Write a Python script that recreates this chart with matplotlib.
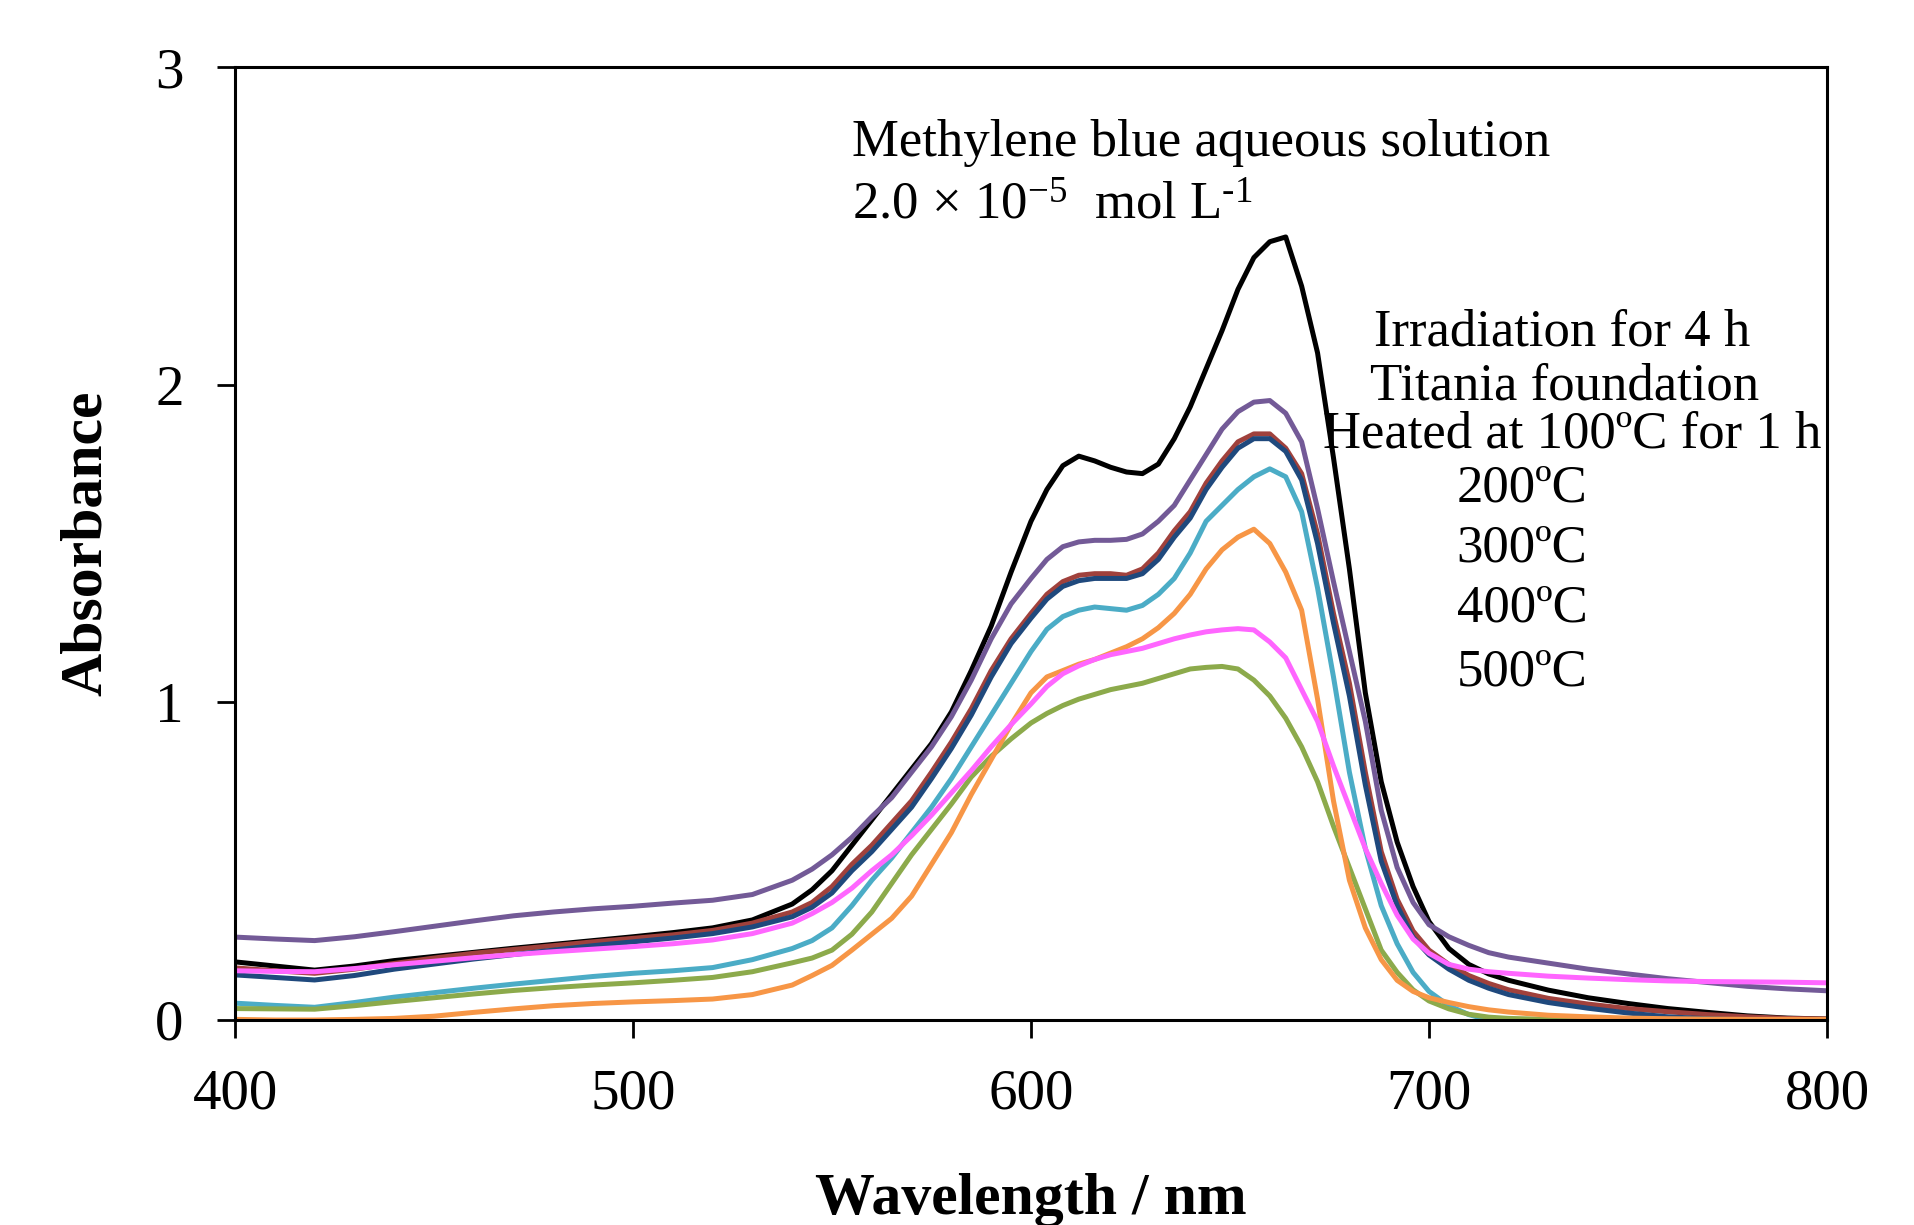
import matplotlib
matplotlib.use("Agg")
import matplotlib.pyplot as plt

plt.rcParams['font.family'] = ['Liberation Serif', 'DejaVu Serif']
plt.rcParams['mathtext.fontset'] = 'custom'
plt.rcParams['mathtext.rm'] = 'Liberation Serif'
plt.rcParams['mathtext.it'] = 'Liberation Serif:italic'
plt.rcParams['mathtext.bf'] = 'Liberation Serif:bold'

wavelength = [400, 410, 420, 430, 440, 450, 460, 470, 480, 490, 500, 510, 520, 530, 540,
              545, 550, 555, 560, 565, 570, 575, 580, 585, 590, 595, 600,
              604, 608, 612, 616, 620, 624, 628, 632, 636, 640, 644, 648, 652, 656, 660,
              664, 668, 672, 676, 680, 684, 688, 692, 696, 700,
              705, 710, 715, 720, 730, 740, 750, 760, 770, 780, 790, 800]

mb_solution = [0.183, 0.170, 0.157, 0.170, 0.187, 0.200, 0.213, 0.226, 0.238, 0.250, 0.262, 0.275, 0.290, 0.315, 0.365,
               0.41, 0.47, 0.55, 0.63, 0.71, 0.79, 0.87, 0.97, 1.10, 1.24, 1.41, 1.57,
               1.67, 1.745, 1.775, 1.76, 1.74, 1.725, 1.72, 1.75, 1.83, 1.93, 2.05, 2.17, 2.30, 2.40, 2.45,
               2.465, 2.31, 2.10, 1.77, 1.42, 1.03, 0.75, 0.56, 0.42, 0.31,
               0.225, 0.175, 0.145, 0.125, 0.094, 0.070, 0.052, 0.036, 0.024, 0.013, 0.006, 0.003]

irradiation_4h = [0.261, 0.255, 0.250, 0.262, 0.278, 0.295, 0.312, 0.328, 0.340, 0.350, 0.358, 0.368, 0.377, 0.395, 0.440,
                  0.475, 0.52, 0.575, 0.64, 0.70, 0.78, 0.86, 0.955, 1.07, 1.20, 1.31, 1.39,
                  1.45, 1.49, 1.505, 1.51, 1.51, 1.513, 1.53, 1.57, 1.62, 1.70, 1.78, 1.86, 1.915, 1.945, 1.95,
                  1.91, 1.82, 1.61, 1.38, 1.16, 0.94, 0.66, 0.48, 0.37, 0.30,
                  0.262, 0.235, 0.212, 0.198, 0.179, 0.160, 0.145, 0.130, 0.118, 0.106, 0.098, 0.092]

titania_foundation = [0.164, 0.155, 0.147, 0.160, 0.178, 0.195, 0.210, 0.222, 0.234, 0.246, 0.257, 0.268, 0.282, 0.305, 0.340,
                      0.37, 0.42, 0.49, 0.55, 0.62, 0.69, 0.78, 0.875, 0.98, 1.10, 1.20, 1.28,
                      1.34, 1.38, 1.40, 1.405, 1.405, 1.40, 1.42, 1.47, 1.54, 1.60, 1.69, 1.76, 1.82, 1.845, 1.845,
                      1.80, 1.72, 1.53, 1.28, 1.06, 0.78, 0.53, 0.38, 0.28, 0.22,
                      0.175, 0.140, 0.115, 0.095, 0.068, 0.050, 0.036, 0.026, 0.017, 0.010, 0.005, 0.003]

heated_100 = [0.142, 0.134, 0.126, 0.140, 0.160, 0.176, 0.192, 0.206, 0.220, 0.234, 0.246, 0.258, 0.272, 0.293, 0.325,
              0.355, 0.40, 0.47, 0.53, 0.60, 0.67, 0.76, 0.855, 0.96, 1.08, 1.185, 1.265,
              1.325, 1.365, 1.383, 1.39, 1.39, 1.39, 1.405, 1.45, 1.52, 1.58, 1.67, 1.74, 1.80, 1.83, 1.83,
              1.79, 1.70, 1.50, 1.25, 1.02, 0.74, 0.50, 0.36, 0.26, 0.205,
              0.160, 0.125, 0.100, 0.080, 0.055, 0.037, 0.022, 0.010, 0.004, 0.0, -0.004, -0.006]

heated_200 = [0.053, 0.046, 0.040, 0.055, 0.072, 0.086, 0.100, 0.113, 0.125, 0.137, 0.147, 0.155, 0.165, 0.190, 0.225,
              0.25, 0.29, 0.36, 0.44, 0.51, 0.59, 0.67, 0.76, 0.86, 0.96, 1.06, 1.16,
              1.23, 1.27, 1.29, 1.30, 1.295, 1.29, 1.305, 1.34, 1.39, 1.47, 1.57, 1.62, 1.67, 1.71, 1.735,
              1.71, 1.60, 1.36, 1.08, 0.78, 0.54, 0.36, 0.24, 0.15, 0.09,
              0.045, 0.017, 0.0, -0.015, -0.04, -0.05, -0.06, -0.06, -0.06, -0.06, -0.06, -0.06]

heated_300 = [0.002, 0.0, 0.0, 0.002, 0.005, 0.012, 0.024, 0.035, 0.045, 0.052, 0.057, 0.061, 0.066, 0.080, 0.110,
              0.14, 0.172, 0.22, 0.27, 0.32, 0.39, 0.49, 0.59, 0.71, 0.82, 0.93, 1.03,
              1.08, 1.10, 1.12, 1.135, 1.155, 1.175, 1.20, 1.235, 1.28, 1.34, 1.42, 1.48, 1.52, 1.545, 1.50,
              1.41, 1.29, 1.01, 0.69, 0.44, 0.29, 0.19, 0.125, 0.09, 0.07,
              0.055, 0.042, 0.032, 0.025, 0.015, 0.010, 0.006, 0.004, 0.003, 0.002, 0.002, 0.002]

heated_400 = [0.155, 0.153, 0.152, 0.162, 0.174, 0.185, 0.196, 0.206, 0.215, 0.223, 0.231, 0.240, 0.252, 0.272, 0.305,
              0.335, 0.37, 0.415, 0.47, 0.52, 0.58, 0.645, 0.715, 0.785, 0.86, 0.93, 0.995,
              1.05, 1.09, 1.115, 1.135, 1.15, 1.16, 1.17, 1.185, 1.20, 1.212, 1.222, 1.228, 1.232, 1.228, 1.19,
              1.14, 1.04, 0.94, 0.80, 0.67, 0.54, 0.43, 0.33, 0.255, 0.21,
              0.175, 0.160, 0.152, 0.147, 0.138, 0.132, 0.127, 0.123, 0.121, 0.120, 0.119, 0.117]

heated_500 = [0.036, 0.035, 0.034, 0.045, 0.058, 0.070, 0.082, 0.093, 0.102, 0.110, 0.117, 0.125, 0.134, 0.152, 0.180,
              0.195, 0.22, 0.27, 0.34, 0.43, 0.52, 0.60, 0.68, 0.765, 0.83, 0.885, 0.935,
              0.965, 0.99, 1.01, 1.025, 1.04, 1.05, 1.06, 1.075, 1.09, 1.105, 1.11, 1.113, 1.105, 1.07, 1.02,
              0.95, 0.86, 0.75, 0.61, 0.48, 0.35, 0.22, 0.15, 0.095, 0.06,
              0.035, 0.018, 0.009, 0.005, 0.002, 0.0, 0.0, 0.0, 0.0, 0.0, 0.0, 0.0]

x_ticks = [400, 500, 600, 700, 800]
y_ticks = [0, 1, 2, 3]

series = [
    (mb_solution, '#000000'),
    (irradiation_4h, '#735A97'),
    (titania_foundation, '#A0413C'),
    (heated_100, '#1F497D'),
    (heated_200, '#4BACC6'),
    (heated_500, '#8CAA4B'),
    (heated_300, '#F79646'),
    (heated_400, '#FF66FF'),
]

W, H = 1915, 1225
fig = plt.figure(figsize=(W / 100, H / 100), dpi=100)
ax = fig.add_axes([235 / W, 1 - 1020 / H, (1827 - 235) / W, (1020 - 67) / H])

for vals, col in series:
    ax.plot(wavelength, vals, color=col, linewidth=3.6, solid_joinstyle='round')

ax.set_xlim(400, 800)
ax.set_ylim(0, 3)
ax.set_xticks(x_ticks)
ax.set_yticks(y_ticks)
for s in ax.spines.values():
    s.set_linewidth(2.2)
ax.tick_params(axis='both', direction='out', length=13, width=2.0, labelsize=41)
ax.tick_params(axis='x', pad=22)
ax.tick_params(axis='y', pad=24)

ax.set_xlabel('Wavelength / nm', fontsize=43, fontweight='bold', labelpad=38)
ax.set_ylabel('Absorbance', fontsize=43, fontweight='bold', labelpad=30)


def ftext(px, py, s, **kw):
    fig.text(px / W, 1 - py / H, s, **kw)


ftext(852, 156, 'Methylene blue aqueous solution', fontsize=38, ha='left', va='baseline')
ftext(852, 219, r'2.0 $\times$ 10$^{-5}$  mol L$^{\text{-1}}$', fontsize=38, ha='left', va='baseline')

legend_lines = [
    (1562, 333, 'Irradiation for 4 h'),
    (1565, 387, 'Titania foundation'),
    (1572, 434, 'Heated at 100ºC for 1 h'),
    (1522, 489, '200ºC'),
    (1522, 548, '300ºC'),
    (1522, 609, '400ºC'),
    (1522, 672, '500ºC'),
]
for px, py, s in legend_lines:
    ftext(px, py, s, fontsize=38, ha='center', va='center')

fig.savefig('out.png', dpi=100)
